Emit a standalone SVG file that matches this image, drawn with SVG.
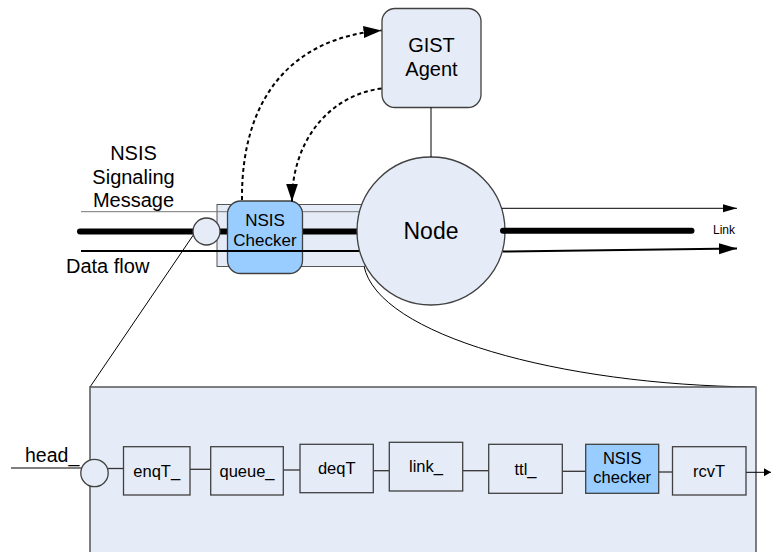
<svg xmlns="http://www.w3.org/2000/svg" width="771" height="552" viewBox="0 0 771 552">
<style>
text{font-family:"Liberation Sans",Arial,sans-serif;fill:#000}
.lt{fill:#e6ecf7;stroke:#404040;stroke-width:1.3}
.blue{fill:#99ccff;stroke:#404040;stroke-width:1.3}
.box{fill:#e6ecf7;stroke:#404040;stroke-width:1.3}
.conn{fill:none;stroke:#333;stroke-width:1.3}
.dash{fill:none;stroke:#000;stroke-width:2;stroke-dasharray:4 3}
.thin{fill:none;stroke:#000;stroke-width:1}
.lbl{font-size:16.5px;text-anchor:middle}
</style>
<defs>
<marker id="ahDash" markerUnits="userSpaceOnUse" markerWidth="20" markerHeight="14" refX="18" refY="6" orient="auto"><path d="M0,0 L18,6 L0,12 Z" fill="#000"/></marker>
<marker id="ahSmall" markerUnits="userSpaceOnUse" markerWidth="16" markerHeight="10" refX="14" refY="4" orient="auto"><path d="M0,0 L14,4 L0,8 Z" fill="#000"/></marker>
<marker id="ahBig" markerUnits="userSpaceOnUse" markerWidth="20" markerHeight="12" refX="18" refY="5.5" orient="auto"><path d="M0,0 L18,5.5 L0,11 Z" fill="#000"/></marker>
<marker id="ahTiny" markerUnits="userSpaceOnUse" markerWidth="10" markerHeight="10" refX="7" refY="4" orient="auto"><path d="M0,0 L7,4 L0,8 Z" fill="#000"/></marker>
</defs>

<g id="zoom-lens">
<path class="thin" d="M194,234 L90,387"/>
<path class="thin" d="M364,266 C378,335 560,385 755,387"/>
</g>

<g id="detail-box">
<rect x="90" y="387" width="666" height="180" fill="#e6ecf7" stroke="#555" stroke-width="1.5"/>
</g>

<g id="highlight-region">
<rect x="217" y="204.5" width="148" height="62" fill="#e6ecf7" stroke="#555" stroke-width="1"/>
</g>

<g id="link-lines">
<line x1="81" y1="211.7" x2="365" y2="211.7" stroke="#777" stroke-width="1"/>
<line x1="80" y1="231.5" x2="365" y2="231.5" stroke="#000" stroke-width="6" stroke-linecap="round"/>
</g>

<g id="small-circle">
<circle cx="206.5" cy="231.5" r="13.5" class="lt"/>
</g>

<g id="nsis-checker-top">
<rect x="227.5" y="201" width="75" height="72.5" rx="13" class="blue"/>
<text x="265" y="226" font-size="17" text-anchor="middle">NSIS</text>
<text x="265" y="245.5" font-size="17" text-anchor="middle">Checker</text>
</g>

<g id="data-flow-left">
<line x1="81" y1="251" x2="365" y2="251" stroke="#000" stroke-width="2"/>
</g>

<g id="node">
<circle cx="431" cy="231" r="74" class="lt"/>
<text x="431" y="238.5" font-size="23" text-anchor="middle">Node</text>
</g>

<g id="right-lines">
<line x1="502" y1="208.3" x2="737" y2="208.3" stroke="#000" stroke-width="1" marker-end="url(#ahSmall)"/>
<line x1="503" y1="230.7" x2="691.5" y2="230.7" stroke="#000" stroke-width="6" stroke-linecap="round"/>
<line x1="503" y1="251.5" x2="737" y2="248.5" stroke="#000" stroke-width="2" marker-end="url(#ahBig)"/>
<text x="713" y="234" font-size="12">Link</text>
</g>

<g id="gist-agent">
<rect x="382" y="8.5" width="99" height="99" rx="13" class="lt"/>
<text x="431.5" y="52.3" font-size="20" text-anchor="middle">GIST</text>
<text x="431.5" y="76" font-size="20" text-anchor="middle">Agent</text>
</g>

<g id="connectors">
<line x1="431" y1="107.5" x2="431" y2="157" stroke="#000" stroke-width="1"/>
<path class="dash" d="M242,200 C241,100 290,38 381.5,30.5" marker-end="url(#ahDash)"/>
<path class="dash" d="M381.5,88.5 C330,95 292,140 292,201.5" marker-end="url(#ahDash)"/>
</g>

<g id="labels">
<text x="133.5" y="159.5" font-size="20" text-anchor="middle">NSIS</text>
<text x="133.5" y="183.5" font-size="20" text-anchor="middle">Signaling</text>
<text x="133.5" y="207.3" font-size="20" text-anchor="middle">Message</text>
<text x="66" y="272.7" font-size="20">Data flow</text>
<text x="25" y="461.7" font-size="19.5">head_</text>
</g>

<g id="pipeline-connectors">
<line x1="11" y1="468" x2="82" y2="468" stroke="#000" stroke-width="1"/>
<line class="conn" x1="108" y1="468.5" x2="123.5" y2="468.5"/>
<line class="conn" x1="190" y1="469.3" x2="210.7" y2="469.3"/>
<line class="conn" x1="283.3" y1="470" x2="300" y2="470"/>
<line class="conn" x1="373.3" y1="470.7" x2="389.3" y2="470.7"/>
<line class="conn" x1="462.7" y1="470.7" x2="488.7" y2="470.7"/>
<line class="conn" x1="562.3" y1="471.3" x2="585.7" y2="471.3"/>
<line class="conn" x1="658.7" y1="472" x2="672.5" y2="472"/>
<line x1="746" y1="472.3" x2="771" y2="472.3" stroke="#000" stroke-width="1" marker-end="url(#ahTiny)"/>
</g>

<g id="head-circle">
<circle cx="94.5" cy="473" r="13.7" class="lt"/>
</g>

<g id="enqT">
<rect x="123.5" y="446.7" width="66.5" height="48.3" class="box"/>
<text class="lbl" x="156.7" y="476.7">enqT_</text>
</g>
<g id="queue">
<rect x="210.7" y="446.7" width="72.6" height="48.3" class="box"/>
<text class="lbl" x="247" y="476.7">queue_</text>
</g>
<g id="deqT">
<rect x="300" y="444.3" width="73.3" height="48.4" class="box"/>
<text class="lbl" x="336.7" y="474">deqT</text>
</g>
<g id="link">
<rect x="389.3" y="442.3" width="73.4" height="48.7" class="box"/>
<text class="lbl" x="426" y="471.7">link_</text>
</g>
<g id="ttl">
<rect x="488.7" y="444.3" width="73.6" height="49" class="box"/>
<text class="lbl" x="525.5" y="475">ttl_</text>
</g>
<g id="nsis-checker-bottom">
<rect x="585.7" y="444.3" width="73" height="49" class="blue"/>
<text class="lbl" x="622.2" y="464">NSIS</text>
<text class="lbl" x="622.2" y="483.3">checker</text>
</g>
<g id="rcvT">
<rect x="672.5" y="446.7" width="73.5" height="48.3" class="box"/>
<text class="lbl" x="709" y="476.7">rcvT</text>
</g>
</svg>
